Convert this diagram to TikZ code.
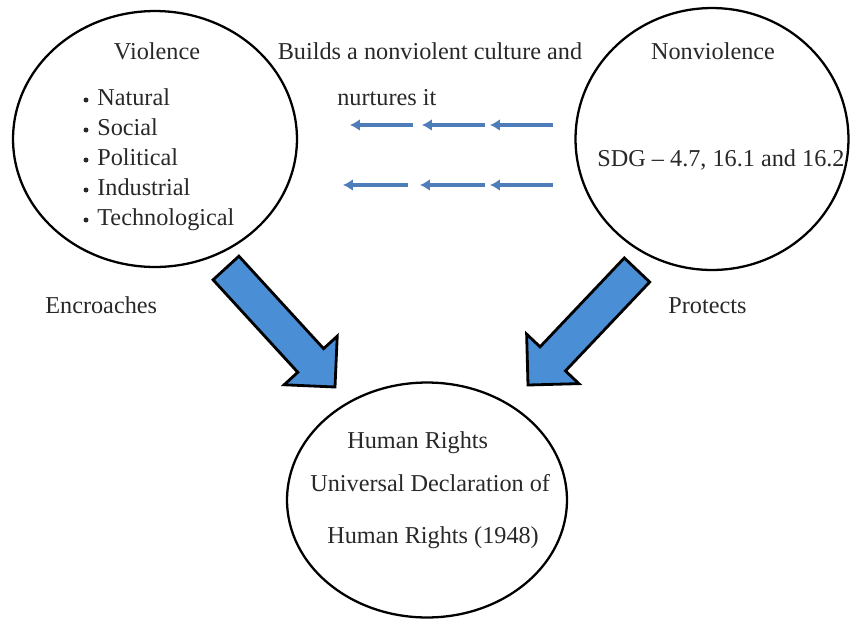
\documentclass[tikz,border=0pt]{standalone}
\usepackage{fontspec}
\setmainfont{Liberation Serif}
\usetikzlibrary{shapes.geometric,arrows.meta,calc}
\definecolor{bigblue}{RGB}{74,142,214}
\definecolor{smallblue}{RGB}{79,125,185}
\definecolor{txt}{RGB}{40,40,40}
\tikzset{
  bubble/.style={draw=black, line width=1.3pt, ellipse, inner sep=0pt, outer sep=0pt},
  lbl/.style={anchor=base west, inner sep=0pt, text=txt, font=\fontsize{13.8}{16}\selectfont},
  clbl/.style={lbl, anchor=base},
  dot/.style={circle, fill=txt, inner sep=0pt, minimum size=0.1cm},
  bigarrow/.style={draw=black, line width=1.6pt, fill=bigblue, line join=miter},
  smallarrow/.style={draw=smallblue, line width=2.1pt, -{Latex[length=0.2cm,width=0.24cm]}},
}
\newcommand{\myblockarrow}[2]{%
  \path ($(#2)!0.72cm!(#1)$) coordinate (ba);
  \draw[bigarrow] ($(#1)!0.35cm!90:(#2)$) -- ($(ba)!0.35cm!90:(#2)$) -- ($(ba)!0.72cm!90:(#2)$) -- (#2) -- ($(ba)!0.72cm!-90:(#2)$) -- ($(ba)!0.35cm!-90:(#2)$) -- ($(#1)!0.35cm!-90:(#2)$) -- cycle;}
\begin{document}
\begin{tikzpicture}[x=0.02cm, y=-0.02cm]
\useasboundingbox (0,0) rectangle (850,620);
% circles
\node[bubble, minimum width=5.68cm, minimum height=5.12cm] (V) at (155,139) {};
\node[bubble, minimum width=5.46cm, minimum height=5.24cm] (N) at (712,139) {};
\node[bubble, minimum width=5.6cm, minimum height=4.7cm] (H) at (427,500) {};
% Violence texts
\node[clbl] (vt) at (157,59) {Violence};
\foreach \i/\t in {1/Natural,2/Social,3/Political,4/Industrial,5/Technological}{
  \node[dot] (d\i) at (86,{105+30*(\i-1)-5}) {};
  \node[lbl] (b\i) at (97,{105+30*(\i-1)}) {\t};
}
% Nonviolence texts
\node[clbl] (nt) at (713,59) {Nonviolence};
\node[clbl] (sdg) at (721,166) {SDG -- 4.7, 16.1 and 16.2};
% middle
\node[clbl] (bld) at (430,59) {Builds a nonviolent culture and};
\node[lbl] (nur) at (337,105) {nurtures it};
% side labels
\node[lbl] (enc) at (45,313) {Encroaches};
\node[lbl] (pro) at (668,313) {Protects};
% human rights
\node[lbl] (h1) at (347,448) {Human Rights};
\node[lbl] (h2) at (310,491) {Universal Declaration of};
\node[lbl] (h3) at (327,543) {Human Rights (1948)};
% small arrows
\coordinate (a1s) at (413,125); \coordinate (a1e) at (350,125);
\coordinate (a2s) at (485,125); \coordinate (a2e) at (422,125);
\coordinate (a3s) at (553,125); \coordinate (a3e) at (490,125);
\coordinate (c1s) at (408,185); \coordinate (c1e) at (343,185);
\coordinate (c2s) at (485,185); \coordinate (c2e) at (420,185);
\coordinate (c3s) at (553,185); \coordinate (c3e) at (490,185);
\foreach \p in {a1,a2,a3,c1,c2,c3}{
  \draw[smallarrow] (\p s) -- (\p e);
}
% big arrows
\coordinate (lt) at (226,268); \coordinate (lp) at (335,387);
\coordinate (rt) at (637,270); \coordinate (rp) at (528,385);
\myblockarrow{lt}{lp}
\myblockarrow{rt}{rp}
\end{tikzpicture}
\end{document}
